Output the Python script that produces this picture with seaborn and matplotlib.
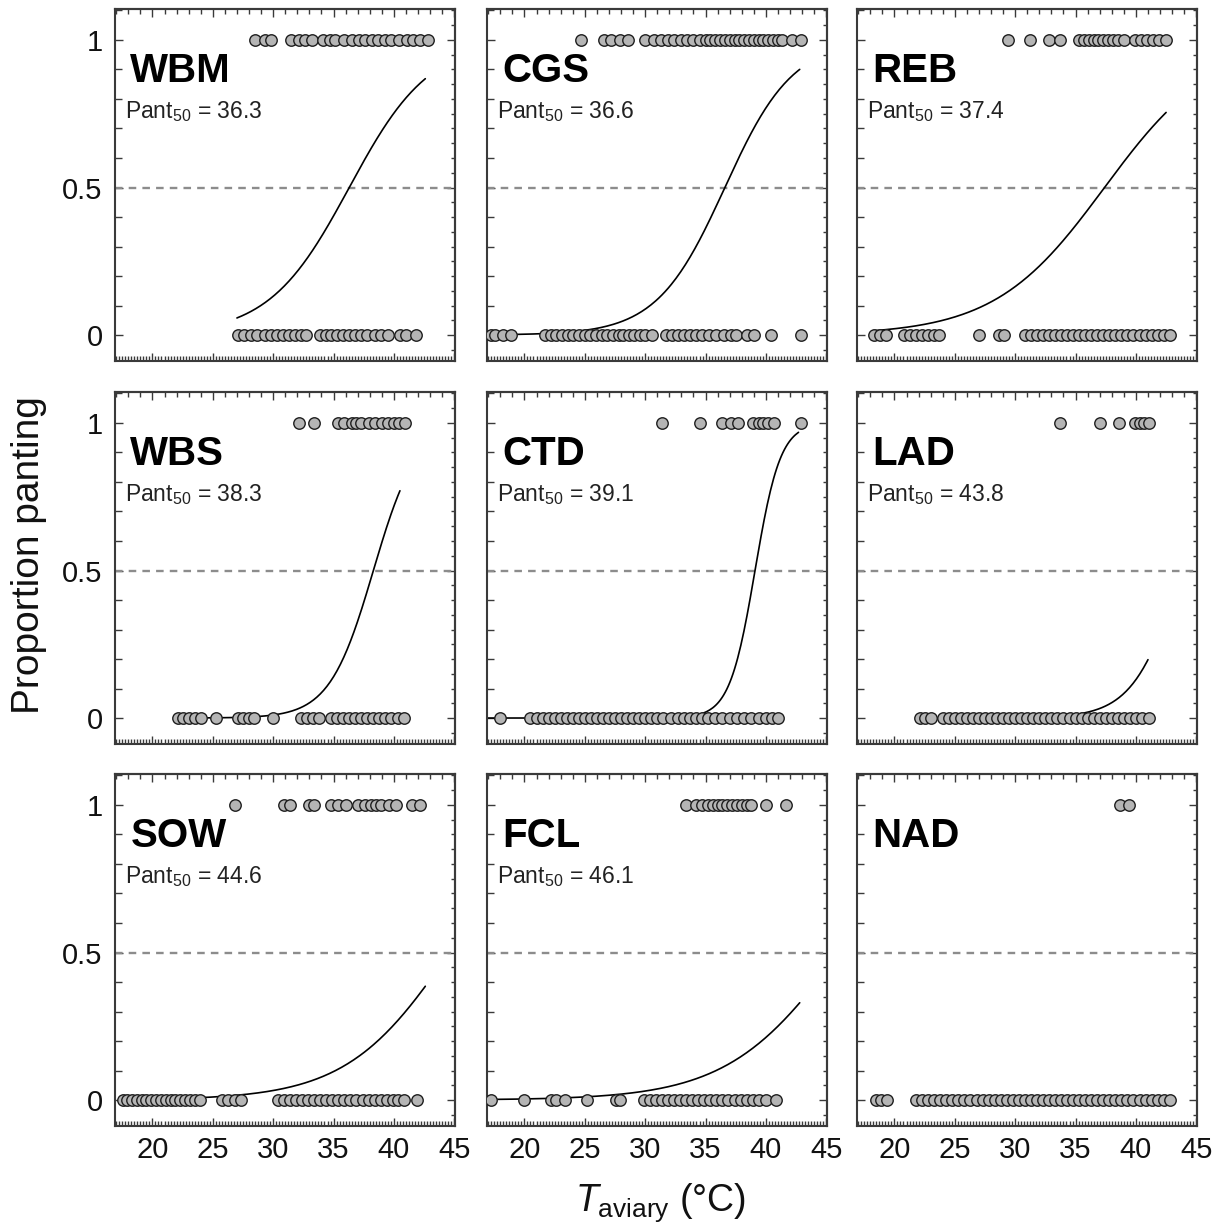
import numpy as np
import pandas as pd
import matplotlib
matplotlib.use('Agg')
import matplotlib.pyplot as plt
from matplotlib.ticker import MultipleLocator, NullFormatter
import seaborn as sns

# species codes, logistic fit params (Pant50 and slope)
species = ['WBM', 'CGS', 'REB', 'WBS', 'CTD', 'LAD', 'SOW', 'FCL', 'NAD']
pant50 = [36.3, 36.6, 37.4, 38.3, 39.1, 43.8, 44.6, 46.1, None]
slope = [0.30, 0.355, 0.22, 0.55, 0.95, 0.5, 0.233, 0.215, None]
# temperature span covered by each fitted curve
curve_lo = [27.0, 17.0, 18.2, 22.0, 17.0, 22.0, 17.5, 17.0, None]
curve_hi = [42.6, 42.8, 42.5, 40.5, 42.7, 41.0, 42.6, 42.8, None]

# aviary temperatures of birds panting (1) and not panting (0)
wbm_1 = [28.5, 29.3, 29.8, 31.5, 32.1, 32.6, 33.2, 34.1, 34.7, 35.1, 35.9, 36.5, 37.1, 37.6,
         38.2, 38.7, 39.3, 39.8, 40.4, 41.1, 41.6, 42.2, 42.8]
wbm_0 = [27.1, 27.6, 28.2, 28.7, 29.3, 29.8, 30.3, 30.8, 31.3, 31.8, 32.3, 32.7, 33.9, 34.4,
         34.8, 35.3, 35.8, 36.3, 36.8, 37.3, 37.8, 38.4, 38.9, 39.5, 40.5, 41.0, 41.8]
cgs_1 = [24.7, 26.6, 27.2, 27.9, 28.6, 30.0, 30.7, 31.3, 31.9, 32.4, 33.0, 33.5, 34.0, 34.5,
         35.0, 35.4, 35.8, 36.2, 36.6, 37.0, 37.4, 37.8, 38.2, 38.6, 39.0, 39.4, 39.8, 40.2,
         40.6, 41.0, 41.3, 42.2, 42.9]
cgs_0 = [17.2, 17.6, 18.2, 18.9, 21.7, 22.2, 22.6, 23.1, 23.6, 24.0, 24.5, 25.0, 25.4, 25.9,
         26.4, 26.8, 27.3, 27.8, 28.2, 28.7, 29.1, 29.6, 30.0, 30.6, 31.7, 32.2, 32.7, 33.2,
         33.7, 34.2, 34.7, 35.3, 35.9, 36.5, 37.1, 37.5, 38.4, 39.0, 40.4, 42.9]
reb_1 = [29.4, 31.2, 32.8, 33.7, 35.3, 35.7, 36.1, 36.5, 36.9, 37.3, 37.7, 38.1, 38.5, 39.0,
         39.9, 40.4, 40.9, 41.4, 41.9, 42.5]
reb_0 = [18.3, 18.8, 19.3, 20.8, 21.3, 21.8, 22.3, 22.8, 23.3, 23.7, 27.0, 28.7, 29.1, 30.8,
         31.3, 31.8, 32.3, 32.8, 33.3, 33.8, 34.3, 34.8, 35.3, 35.8, 36.3, 36.8, 37.3, 37.8,
         38.3, 38.8, 39.3, 39.8, 40.3, 40.8, 41.3, 41.8, 42.3, 42.8]
wbs_1 = [32.1, 33.4, 35.4, 35.9, 36.5, 36.9, 37.3, 37.9, 38.4, 39.0, 39.5, 40.0, 40.4, 40.9]
wbs_0 = [22.1, 22.5, 23.0, 23.5, 24.0, 25.3, 27.1, 27.5, 28.0, 28.4, 30.0, 32.3, 32.8, 33.3,
         33.8, 34.8, 35.3, 35.8, 36.3, 36.8, 37.3, 37.8, 38.3, 38.8, 39.3, 39.8, 40.3, 40.8]
ctd_1 = [31.4, 34.5, 36.4, 37.1, 37.7, 38.9, 39.4, 39.8, 40.2, 40.7, 42.9]
ctd_0 = [18.0, 20.5, 21.0, 21.5, 22.0, 22.5, 23.0, 23.5, 24.0, 24.5, 25.0, 25.5, 26.0, 26.5,
         27.0, 27.5, 28.0, 28.5, 29.0, 29.5, 30.0, 30.5, 31.0, 31.5, 32.1, 32.7, 33.2, 33.7,
         34.2, 34.7, 35.2, 35.8, 36.4, 37.0, 37.6, 38.2, 38.8, 39.4, 40.0, 40.5, 41.0]
lad_1 = [33.7, 37.0, 38.6, 39.9, 40.3, 40.7, 41.1]
lad_0 = [22.1, 22.5, 23.0, 24.0, 24.5, 25.0, 25.5, 26.0, 26.5, 27.0, 27.5, 28.0, 28.5, 29.0,
         29.5, 30.0, 30.5, 31.0, 31.5, 32.0, 32.5, 33.0, 33.5, 34.0, 34.5, 35.0, 35.5, 36.0,
         36.5, 37.0, 37.5, 38.0, 38.5, 39.0, 39.5, 40.0, 40.5, 41.1]
sow_1 = [26.8, 30.9, 31.4, 33.0, 33.4, 34.8, 35.4, 36.0, 37.0, 37.6, 38.1, 38.5, 38.9, 39.6,
         40.2, 41.5, 42.2]
sow_0 = [17.6, 17.9, 18.3, 18.7, 19.1, 19.5, 19.9, 20.3, 20.7, 21.1, 21.5, 21.9, 22.3, 22.7,
         23.1, 23.5, 23.9, 25.8, 26.3, 26.8, 27.3, 30.4, 30.9, 31.4, 31.9, 32.4, 32.9, 33.4,
         33.9, 34.4, 34.9, 35.4, 35.9, 36.4, 36.9, 37.4, 37.9, 38.4, 38.9, 39.4, 39.9, 40.3,
         40.8, 41.9]
fcl_1 = [33.4, 34.2, 34.7, 35.2, 35.6, 36.0, 36.4, 36.8, 37.2, 37.6, 38.0, 38.4, 38.8, 40.0, 41.7]
fcl_0 = [17.2, 20.0, 22.2, 22.6, 23.4, 25.2, 27.6, 27.9, 29.9, 30.4, 30.9, 31.4, 31.9, 32.4,
         32.9, 33.4, 33.9, 34.4, 34.9, 35.4, 35.9, 36.4, 36.9, 37.4, 37.9, 38.4, 38.9, 39.4,
         40.0, 40.8]
nad_1 = [38.7, 39.4]
nad_0 = [18.5, 18.9, 19.4, 21.8, 22.3, 22.8, 23.3, 23.8, 24.3, 24.8, 25.3, 25.8, 26.3, 26.8,
         27.3, 27.8, 28.3, 28.8, 29.3, 29.8, 30.3, 30.8, 31.3, 31.8, 32.3, 32.8, 33.3, 33.8,
         34.3, 34.8, 35.3, 35.8, 36.3, 36.8, 37.3, 37.8, 38.3, 38.8, 39.3, 39.8, 40.3, 40.8,
         41.3, 41.8, 42.3, 42.8]

panting = [wbm_1, cgs_1, reb_1, wbs_1, ctd_1, lad_1, sow_1, fcl_1, nad_1]
not_panting = [wbm_0, cgs_0, reb_0, wbs_0, ctd_0, lad_0, sow_0, fcl_0, nad_0]

sns.set_style('ticks')
plt.rcParams['font.family'] = ['Liberation Sans', 'DejaVu Sans']
plt.rcParams['mathtext.fontset'] = 'custom'
plt.rcParams['mathtext.rm'] = 'Liberation Sans'
plt.rcParams['mathtext.it'] = 'Liberation Sans:italic'
plt.rcParams['mathtext.bf'] = 'Liberation Sans:bold'

W, H = 1223, 1227
fig = plt.figure(figsize=(W / 100, H / 100), dpi=100)

col_left = [115, 487, 857]
row_top = [9, 392, 774]
aw, ah = 340, 352
spine_col = '#3a3a3a'

for i, sp in enumerate(species):
    r, c = divmod(i, 3)
    ax = fig.add_axes([col_left[c] / W, 1 - (row_top[r] + ah) / H, aw / W, ah / H])

    df = pd.DataFrame({'t': panting[i] + not_panting[i],
                       'pant': [1] * len(panting[i]) + [0] * len(not_panting[i])})

    ax.axhline(0.5, color='#8c8c8c', lw=1.7, ls=(0, (3.2, 2.6)), zorder=1)

    if pant50[i] is not None:
        xs = np.linspace(curve_lo[i], curve_hi[i], 200)
        fit = pd.DataFrame({'t': xs, 'p': 1 / (1 + np.exp(-slope[i] * (xs - pant50[i])))})
        sns.lineplot(data=fit, x='t', y='p', ax=ax, color='black', lw=1.2, zorder=2)
        ax.text(0.03, 0.689, r'Pant$_{\rm 50}$ = %.1f' % pant50[i], transform=ax.transAxes,
                fontsize=16.5, color='#222222', ha='left', va='baseline')

    sns.scatterplot(data=df, x='t', y='pant', ax=ax, s=68, color='#b5b5b5',
                    edgecolor='#1e1e1e', linewidth=1.0, zorder=3, legend=False)

    ax.text(0.045, 0.792, sp, transform=ax.transAxes, fontsize=29, fontweight='bold',
            ha='left', va='baseline', color='black')

    ax.set_xlim(16.9, 45.06)
    ax.set_ylim(-0.088, 1.105)
    ax.set_xlabel('')
    ax.set_ylabel('')

    ax.xaxis.set_major_locator(MultipleLocator(5))
    ax.xaxis.set_minor_locator(MultipleLocator(0.25))
    ax.yaxis.set_major_locator(MultipleLocator(0.5))
    ax.yaxis.set_minor_locator(MultipleLocator(0.1))
    ax.tick_params(which='both', direction='in', color=spine_col, width=1.0,
                   top=False, right=False, labelsize=21, labelcolor='#111111')
    ax.tick_params(which='major', length=6)
    ax.tick_params(which='minor', length=3.5)
    ax.tick_params(axis='y', which='minor', length=5)
    ax.tick_params(axis='y', pad=9)
    ax.tick_params(axis='x', pad=7)
    ax.set_yticks([0, 0.5, 1])
    ax.set_yticklabels(['0', '0.5', '1'])

    if c != 0:
        ax.yaxis.set_major_formatter(NullFormatter())
    if r != 2:
        ax.xaxis.set_major_formatter(NullFormatter())

    top = ax.secondary_xaxis('top')
    top.xaxis.set_major_locator(MultipleLocator(5))
    top.xaxis.set_minor_locator(MultipleLocator(1))
    top.xaxis.set_major_formatter(NullFormatter())
    top.tick_params(which='both', direction='in', color=spine_col, width=1.0)
    top.tick_params(which='major', length=6)
    top.tick_params(which='minor', length=3.5)

    right = ax.secondary_yaxis('right')
    right.yaxis.set_major_locator(MultipleLocator(0.5))
    right.yaxis.set_minor_locator(MultipleLocator(0.05))
    right.yaxis.set_major_formatter(NullFormatter())
    right.tick_params(which='both', direction='in', color=spine_col, width=1.0)
    right.tick_params(which='major', length=6)
    right.tick_params(which='minor', length=3)

    for s in list(ax.spines.values()) + list(top.spines.values()) + list(right.spines.values()):
        s.set_color(spine_col)
        s.set_linewidth(1.5)

fig.text(0.024, 0.548, 'Proportion panting', rotation=90, fontsize=28,
         ha='center', va='center', color='#111111')
fig.text(0.54, 0.02, r'$T_{\rm aviary}$ (°C)', fontsize=27,
         ha='center', va='center', color='#111111')

fig.savefig('out.png', dpi=100)
